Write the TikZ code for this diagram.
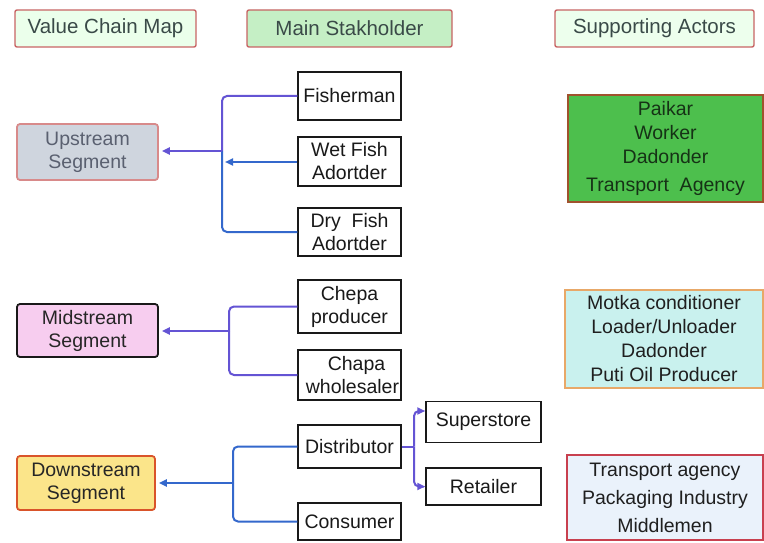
\documentclass[tikz,border=0pt]{standalone}
\usepackage{fontspec}
\setmainfont{Liberation Sans}
\usetikzlibrary{arrows.meta}
\definecolor{hdrb}{HTML}{C86464}
\definecolor{hdrt}{HTML}{3A4A48}
\definecolor{cpur}{HTML}{6454D4}
\definecolor{cblu}{HTML}{3468CC}
\tikzset{
  base/.style={inner sep=0pt, align=center, font=\fontsize{19.5}{23}\selectfont},
  hdr/.style={base, draw=hdrb, line width=1.4pt, rounded corners=2pt, minimum height=37pt, text=hdrt, font=\fontsize{20.5}{23}\selectfont},
  seg/.style={base, line width=1.8pt, rounded corners=3pt, text=black!85},
  stk/.style={base, draw=black!90, line width=1.5pt, fill=white, minimum width=103pt, text=black!90},
  sup/.style={base, line width=1.8pt, text=black!88, font=\fontsize{19.5}{24}\selectfont},
  conn/.style={line width=2pt, rounded corners=5pt},
  tip/.style={line width=2.6pt, -{Triangle[length=8pt,width=7pt]}}
}
\begin{document}
\begin{tikzpicture}[x=1pt,y=-1pt]
\useasboundingbox[fill=white] (0,0) rectangle (764,543);
% headers
\node[hdr, fill=green!8, minimum width=181pt] (vcm) at (105.5,28.5) {Value Chain Map};
\node[hdr, fill={rgb,255:red,197;green,239;blue,197}, minimum width=205pt] (ms) at (349.5,28.5) {Main Stakholder};
\node[hdr, fill=green!7, minimum width=199pt] (sa) at (654.5,28.5) {Supporting Actors};
% segments
\node[seg, draw={rgb,255:red,216;green,138;blue,138}, fill={rgb,255:red,207;green,213;blue,222}, text={rgb,255:red,90;green,96;blue,112}, minimum width=141pt, minimum height=56pt] (up) at (87.5,152) {Upstream\\Segment};
\node[seg, draw=black!90, fill={rgb,255:red,247;green,205;blue,239}, minimum width=141pt, minimum height=53pt] (mid) at (87.5,330.5) {Midstream\\Segment};
\node[seg, draw={rgb,255:red,217;green,84;blue,42}, fill={rgb,255:red,251;green,229;blue,138}, minimum width=138pt, minimum height=54pt] (down) at (86,483) {Downstream\\Segment};
% stakeholders
\node[stk, minimum height=48pt] (fish) at (349.5,96) {Fisherman};
\node[stk, minimum height=49pt] (wet) at (349.5,161.5) {Wet Fish\\Adortder};
\node[stk, minimum height=48pt] (dry) at (349.5,232) {Dry~~Fish\\Adortder};
\node[stk, minimum height=53pt] (chepa) at (349.5,306.5) {Chepa\\producer};
\node[stk, minimum height=50pt] (chapa) at (349.5,375) {\phantom{w}Chapa\\\hspace*{6pt}wholesaler};
\node[stk, minimum height=43pt] (dist) at (349.5,446.5) {Distributor};
\node[stk, minimum height=37pt] (cons) at (349.5,521.5) {Consumer};
\node[stk, minimum width=115pt, minimum height=41pt] (sups) at (483.5,422) {Superstore};
\node[stk, minimum width=115pt, minimum height=37pt] (ret) at (483.5,486.5) {Retailer};
% supporting actors
\node[sup, draw={rgb,255:red,160;green,82;blue,45}, fill={rgb,255:red,77;green,191;blue,77}, text={rgb,255:red,22;green,50;blue,22}, minimum width=195pt, minimum height=107pt] (s1) at (665.5,148.5) {Paikar\\Worker\\Dadonder\\[4pt]Transport~~Agency};
\node[sup, draw={rgb,255:red,232;green,168;blue,104}, fill={rgb,255:red,201;green,241;blue,238}, minimum width=198pt, minimum height=98pt] (s2) at (664,339) {Motka conditioner\\Loader/Unloader\\Dadonder\\Puti Oil Producer};
\node[sup, draw={rgb,255:red,200;green,64;blue,79}, fill={rgb,255:red,234;green,242;blue,251}, font=\fontsize{19.5}{28}\selectfont, minimum width=196pt, minimum height=85pt] (s3) at (665,497.5) {Transport agency\\Packaging Industry\\Middlemen};
% upstream connectors
\coordinate (uj) at (222,151);
\coordinate (uw) at (225,162);
\draw[conn, cpur] (fish.west) -| (uj);
\draw[conn, cblu] (dry.west) -| (uj);
\draw[conn, cpur, tip, shorten >=3pt] (uj) -- (uj -| up.east);
\draw[conn, cblu, tip] (uw -| wet.west) -- (uw);
% midstream connectors
\coordinate (mj) at (229,331);
\draw[conn, cpur] (chepa.west) -| (mj);
\draw[conn, cpur] (chapa.west) -| (mj);
\draw[conn, cpur, tip, shorten >=3pt] (mj) -- (mj -| mid.east);
% downstream connectors
\coordinate (dj) at (233,483);
\draw[conn, cblu] (dist.west) -| (dj);
\draw[conn, cblu] (cons.west) -| (dj);
\draw[conn, cblu, tip, shorten >=3pt] (dj) -- (dj -| down.east);
% distributor branches
\coordinate (bt) at (414,411);
\coordinate (bm) at (414,446.5);
\draw[conn, cpur] (dist.east) -- (bm);
\draw[conn, cpur, -{Triangle[length=8pt,width=7pt]}] (bm) |- (bt -| sups.west);
\draw[conn, cpur, -{Triangle[length=8pt,width=7pt]}] (bm) |- (ret.west);
\end{tikzpicture}
\end{document}
